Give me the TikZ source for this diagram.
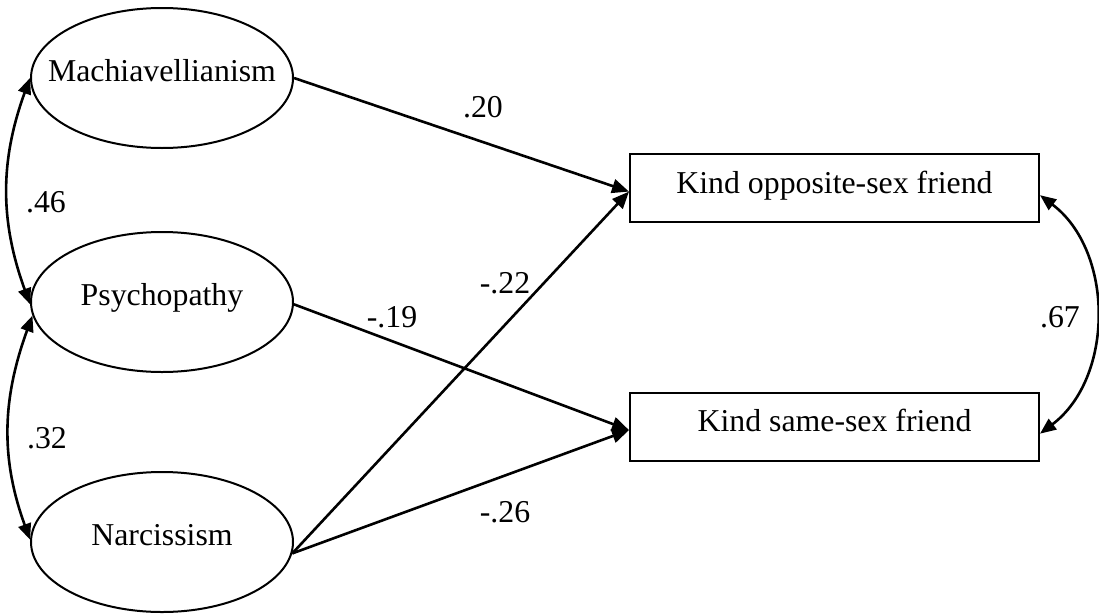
\documentclass[tikz,border=0pt]{standalone}
\usepackage{fontspec}
\setmainfont{Liberation Serif}
\usetikzlibrary{shapes.geometric,arrows.meta}
\begin{document}
\begin{tikzpicture}[x=1pt,y=1pt,
  font=\fontsize{31.8}{38}\selectfont,
  latent/.style={ellipse,draw,line width=2pt,minimum width=262pt,minimum height=140pt,inner sep=0pt,text height=20pt,text depth=14pt},
  observed/.style={rectangle,draw,line width=2pt,minimum width=409pt,minimum height=68pt,inner sep=0pt,text height=22pt,text depth=12pt},
  effect/.style={line width=2.6pt,-{Triangle[length=17pt,width=14pt]}},
  cov/.style={line width=2.6pt,{Triangle[length=16pt,width=13pt]}-{Triangle[length=16pt,width=13pt]}},
  coef/.style={inner sep=0pt}]
\useasboundingbox (0,0) rectangle (1099,-613);

\node[latent] (mach) at (162,-78) {\makebox[0pt]{Machiavellianism}};
\node[latent] (psy) at (162,-302) {\makebox[0pt]{Psychopathy}};
\node[latent] (narc) at (162,-542) {\makebox[0pt]{Narcissism}};

\node[observed] (kos) at (834.5,-188) {Kind opposite-sex friend};
\node[observed] (kss) at (834.5,-426.5) {Kind same-sex friend};

% paths
\draw[effect] (mach.east) -- (kos.181.7);
\draw[effect] (psy.-1) -- (kss.181.5);
\draw[effect] (narc.-5) -- (kos.181.7);
\draw[effect] (narc.-5) -- (kss.181.5);

% covariances
\draw[cov] (mach.west) to[out=250,in=110] (psy.181);
\draw[cov] (psy.186) to[out=250,in=110] (narc.179);
\draw[cov] (kos.358.3) to[out=-37,in=37] (kss.358.5);

% coefficients
\node[coef] (c1) at (483,-107) {.20};
\node[coef] (c2) at (505,-283) {-.22};
\node[coef] (c3) at (392,-317) {-.19};
\node[coef] (c4) at (505,-512) {-.26};
\node[coef] (c5) at (46,-202) {.46};
\node[coef] (c6) at (47,-438) {.32};
\node[coef] (c7) at (1060,-317) {.67};
\end{tikzpicture}
\end{document}
